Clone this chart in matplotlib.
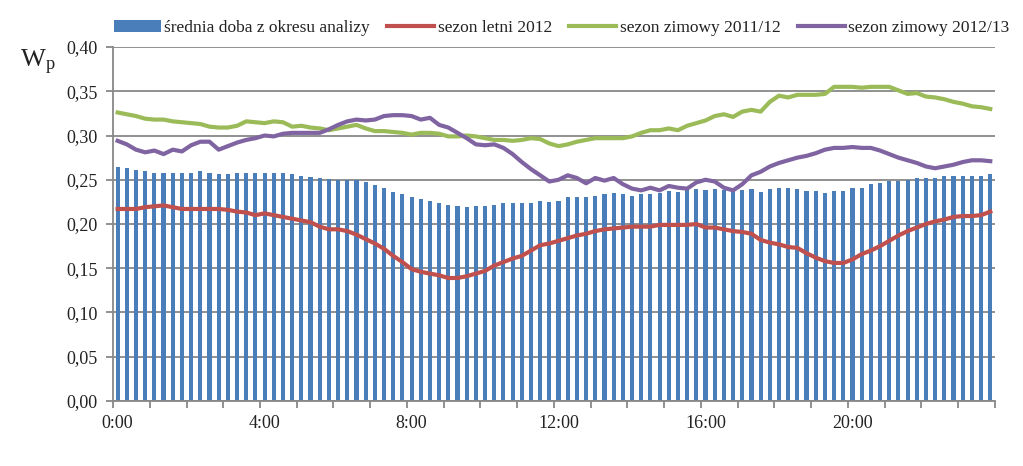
import numpy as np
import matplotlib
matplotlib.use("Agg")
import matplotlib.pyplot as plt

plt.rcParams['font.family'] = ['Liberation Serif', 'DejaVu Serif']
plt.rcParams['mathtext.fontset'] = 'custom'
plt.rcParams['mathtext.rm'] = 'Liberation Serif'

# 96 kwadransow doby
godziny = ["0:00", "4:00", "8:00", "12:00", "16:00", "20:00"]

srednia_doba = [
    0.264, 0.263, 0.261, 0.260, 0.258, 0.258, 0.258, 0.258, 0.258, 0.260, 0.258, 0.256,
    0.256, 0.258, 0.258, 0.258, 0.258, 0.258, 0.258, 0.256, 0.254, 0.253, 0.252, 0.251,
    0.250, 0.250, 0.250, 0.247, 0.244, 0.241, 0.236, 0.234, 0.230, 0.228, 0.226, 0.224,
    0.222, 0.220, 0.219, 0.220, 0.220, 0.222, 0.224, 0.224, 0.224, 0.224, 0.226, 0.225,
    0.226, 0.230, 0.230, 0.230, 0.232, 0.234, 0.235, 0.234, 0.232, 0.234, 0.234, 0.235,
    0.237, 0.236, 0.239, 0.239, 0.238, 0.239, 0.238, 0.239, 0.238, 0.239, 0.236, 0.239,
    0.241, 0.241, 0.239, 0.237, 0.237, 0.235, 0.237, 0.237, 0.241, 0.241, 0.245, 0.246,
    0.249, 0.249, 0.250, 0.252, 0.252, 0.252, 0.254, 0.254, 0.254, 0.254, 0.254, 0.256,
]

sezon_letni = [
    0.217, 0.217, 0.217, 0.219, 0.220, 0.221, 0.219, 0.217, 0.217, 0.217, 0.217, 0.217,
    0.216, 0.214, 0.213, 0.210, 0.212, 0.210, 0.208, 0.206, 0.204, 0.202, 0.197, 0.194,
    0.194, 0.192, 0.188, 0.183, 0.178, 0.172, 0.164, 0.157, 0.149, 0.146, 0.144, 0.142,
    0.139, 0.139, 0.141, 0.144, 0.147, 0.153, 0.157, 0.161, 0.164, 0.170, 0.176, 0.178,
    0.181, 0.184, 0.187, 0.189, 0.192, 0.194, 0.195, 0.196, 0.197, 0.197, 0.197, 0.199,
    0.199, 0.199, 0.199, 0.200, 0.196, 0.196, 0.194, 0.192, 0.191, 0.189, 0.182, 0.179,
    0.177, 0.174, 0.173, 0.167, 0.162, 0.158, 0.156, 0.156, 0.160, 0.166, 0.170, 0.175,
    0.181, 0.187, 0.192, 0.196, 0.200, 0.203, 0.205, 0.208, 0.209, 0.209, 0.210, 0.214,
]

sezon_zimowy_2011 = [
    0.326, 0.324, 0.322, 0.319, 0.318, 0.318, 0.316, 0.315, 0.314, 0.313, 0.310, 0.309,
    0.309, 0.311, 0.316, 0.315, 0.314, 0.316, 0.315, 0.310, 0.311, 0.309, 0.308, 0.306,
    0.308, 0.310, 0.312, 0.308, 0.305, 0.305, 0.304, 0.303, 0.301, 0.303, 0.303, 0.302,
    0.299, 0.299, 0.300, 0.299, 0.297, 0.295, 0.295, 0.294, 0.295, 0.297, 0.296, 0.291,
    0.288, 0.290, 0.293, 0.295, 0.297, 0.297, 0.297, 0.297, 0.299, 0.303, 0.306, 0.306,
    0.308, 0.306, 0.311, 0.314, 0.317, 0.322, 0.324, 0.321, 0.327, 0.329, 0.327, 0.338,
    0.345, 0.343, 0.346, 0.346, 0.346, 0.347, 0.355, 0.355, 0.355, 0.354, 0.355, 0.355,
    0.355, 0.351, 0.347, 0.348, 0.344, 0.343, 0.341, 0.338, 0.336, 0.333, 0.332, 0.330,
]

sezon_zimowy_2012 = [
    0.294, 0.290, 0.284, 0.281, 0.283, 0.279, 0.284, 0.282, 0.289, 0.293, 0.293, 0.284,
    0.288, 0.292, 0.295, 0.297, 0.300, 0.299, 0.302, 0.303, 0.303, 0.303, 0.303, 0.307,
    0.312, 0.316, 0.318, 0.317, 0.318, 0.322, 0.323, 0.323, 0.322, 0.318, 0.320, 0.312,
    0.309, 0.303, 0.297, 0.290, 0.289, 0.290, 0.286, 0.279, 0.270, 0.262, 0.255, 0.248,
    0.250, 0.255, 0.252, 0.246, 0.252, 0.249, 0.252, 0.245, 0.240, 0.238, 0.241, 0.238,
    0.243, 0.241, 0.240, 0.247, 0.250, 0.248, 0.241, 0.238, 0.245, 0.255, 0.259, 0.265,
    0.269, 0.272, 0.275, 0.277, 0.280, 0.284, 0.286, 0.286, 0.287, 0.286, 0.286, 0.283,
    0.279, 0.275, 0.272, 0.269, 0.265, 0.263, 0.265, 0.267, 0.270, 0.272, 0.272, 0.271,
]

x = np.arange(len(srednia_doba))

fig = plt.figure(figsize=(10.23, 4.66), dpi=100)
ax = fig.add_axes([0.1105, 0.1395, 0.862, 0.7596])

b = ax.bar(x, srednia_doba, width=0.45, color="#4A7EBB", zorder=2)
l1, = ax.plot(x, sezon_letni, color="#C0504D", lw=3, zorder=3)
l2, = ax.plot(x, sezon_zimowy_2011, color="#9BBB59", lw=3, zorder=3)
l3, = ax.plot(x, sezon_zimowy_2012, color="#8064A2", lw=3, zorder=3)

ax.set_xlim(-0.5, len(x) - 0.5)
ax.set_ylim(0, 0.40)
ax.set_yticks(np.arange(0, 0.401, 0.05))
ax.set_yticklabels([("%.2f" % v).replace(".", ",") for v in np.arange(0, 0.401, 0.05)])
ax.yaxis.grid(True, color="#888888", lw=1.3, zorder=0)
ax.set_axisbelow(True)

ax.set_xticks(np.arange(0, len(x), 16))
ax.set_xticklabels(godziny)
ax.set_xticks(np.arange(-0.5, len(x), 4), minor=True)
ax.tick_params(axis="x", which="major", length=0, pad=10)
ax.tick_params(axis="x", which="minor", length=5, color="#888888", width=1.3)
ax.tick_params(axis="y", length=5, color="#888888", width=1.3, pad=6)
ax.tick_params(labelsize=13, labelcolor="#222222")

for s in ["top", "right"]:
    ax.spines[s].set_visible(False)
for s in ["left", "bottom"]:
    ax.spines[s].set_color("#888888")
    ax.spines[s].set_linewidth(1.3)

fig.text(0.020, 0.855, r"$\mathregular{W_p}$", fontsize=19, color="#222222")

fig.legend([b, l1, l2, l3],
           ["średnia doba z okresu analizy", "sezon letni 2012",
            "sezon zimowy 2011/12", "sezon zimowy 2012/13"],
           loc="center", bbox_to_anchor=(0.549, 0.94), ncol=4, frameon=False,
           fontsize=12.5, handlelength=2.7, handletextpad=0.2, columnspacing=1.0,
           labelcolor="#222222")

fig.savefig("out.png", dpi=100)
